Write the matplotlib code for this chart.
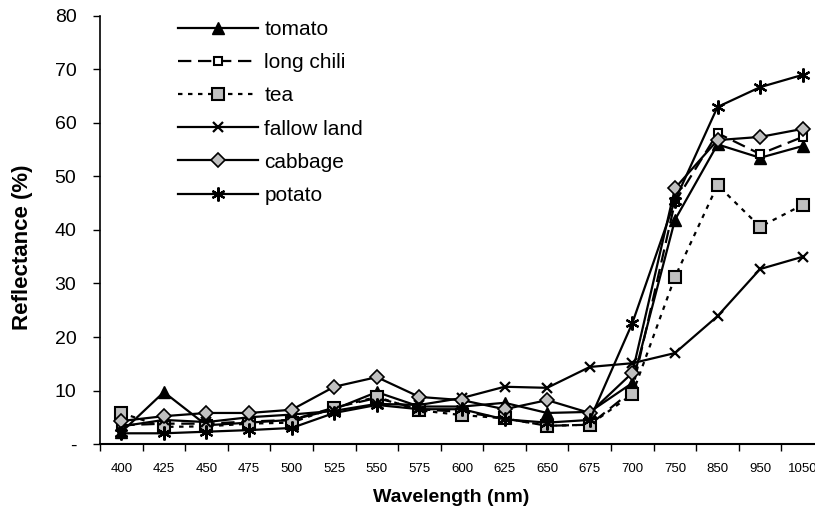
import numpy as np
import matplotlib.pyplot as plt

plt.rcParams['font.family'] = ['Liberation Sans', 'DejaVu Sans']

wavelengths = ["400", "425", "450", "475", "500", "525", "550", "575", "600",
               "625", "650", "675", "700", "750", "850", "950", "1050"]

tomato = [2.2, 9.7, 3.5, 4.0, 4.5, 6.5, 9.7, 7.0, 7.0, 7.7, 5.8, 6.0, 11.4, 41.9, 56.0, 53.5, 55.7]
long_chili = [3.5, 3.8, 3.8, 4.2, 4.5, 6.8, 8.6, 6.5, 6.0, 4.8, 3.4, 3.6, 10.0, 45.2, 58.1, 54.2, 57.4]
tea = [5.8, 3.2, 3.3, 3.8, 4.0, 6.8, 8.8, 6.3, 5.4, 4.8, 3.4, 3.6, 9.3, 31.2, 48.4, 40.6, 44.7]
fallow_land = [3.3, 4.5, 4.1, 5.0, 5.5, 6.2, 7.5, 7.3, 8.6, 10.7, 10.5, 14.4, 15.1, 17.0, 23.9, 32.7, 35.0]
cabbage = [4.3, 5.2, 5.8, 5.8, 6.4, 10.7, 12.5, 8.8, 8.2, 6.5, 8.2, 5.8, 13.3, 47.8, 56.8, 57.4, 58.9]
potato = [2.0, 2.0, 2.3, 2.6, 3.0, 5.8, 7.3, 6.5, 6.5, 4.6, 4.0, 4.5, 22.6, 45.5, 63.0, 66.7, 69.0]

yticks = [0, 10, 20, 30, 40, 50, 60, 70, 80]
ytick_labels = ["-", "10", "20", "30", "40", "50", "60", "70", "80"]

fig = plt.figure(figsize=(8.15, 5.11), dpi=100)
# axes run past the right edge like in the original
ax = fig.add_axes([100 / 815, 67 / 511, 724 / 815, 428 / 511])

x = np.arange(len(wavelengths))
lw = 1.6
ax.plot(x, tomato, color='black', lw=lw, marker='^', ms=9, mfc='black', mec='black', label='tomato')
ax.plot(x, long_chili, color='black', lw=lw, ls=(0, (6, 3)), marker='s', ms=6, mfc='white', mec='black',
        mew=1.5, label='long chili')
ax.plot(x, tea, color='black', lw=lw, ls=(0, (2, 2.5)), marker='s', ms=9, mfc='#c0c0c0', mec='black',
        mew=1.5, label='tea')
ax.plot(x, fallow_land, color='black', lw=lw, marker='x', ms=7, mew=1.6, label='fallow land')
ax.plot(x, cabbage, color='black', lw=lw, marker='D', ms=7, mfc='#c0c0c0', mec='black', mew=1.2,
        label='cabbage')
ax.plot(x, potato, color='black', lw=lw, marker=(6, 2, 0), ms=10, mew=1.6, label='potato')

ax.set_xlim(-0.5, len(wavelengths) - 0.5)
ax.set_ylim(0, 80)
ax.set_xticks(x)
ax.set_xticklabels(wavelengths, fontsize=9.5)
ax.set_xticks(np.arange(len(wavelengths) + 1) - 0.5, minor=True)
ax.tick_params(axis='x', which='major', length=0, pad=14)
ax.tick_params(axis='x', which='minor', length=5, width=1)
ax.set_yticks(yticks)
ax.set_yticklabels(ytick_labels, fontsize=14)
ax.tick_params(axis='y', length=5, width=1, pad=12)

for s in ['top', 'right']:
    ax.spines[s].set_visible(False)
ax.spines['left'].set_linewidth(1.2)
ax.spines['bottom'].set_linewidth(1.5)

ax.set_xlabel('Wavelength (nm)', fontsize=14, fontweight='bold')
ax.set_ylabel('Reflectance (%)', fontsize=16, fontweight='bold')
ax.xaxis.set_label_coords(0.485, -0.105)
ax.yaxis.set_label_coords(-0.0925, 0.46)

ax.legend(loc='upper left', bbox_to_anchor=(178 / 815, 491 / 511), bbox_transform=fig.transFigure,
          frameon=False, fontsize=15, borderpad=0, borderaxespad=0,
          handlelength=3.85, labelspacing=0.68, handletextpad=0.3)

fig.savefig('out.png', dpi=100)
